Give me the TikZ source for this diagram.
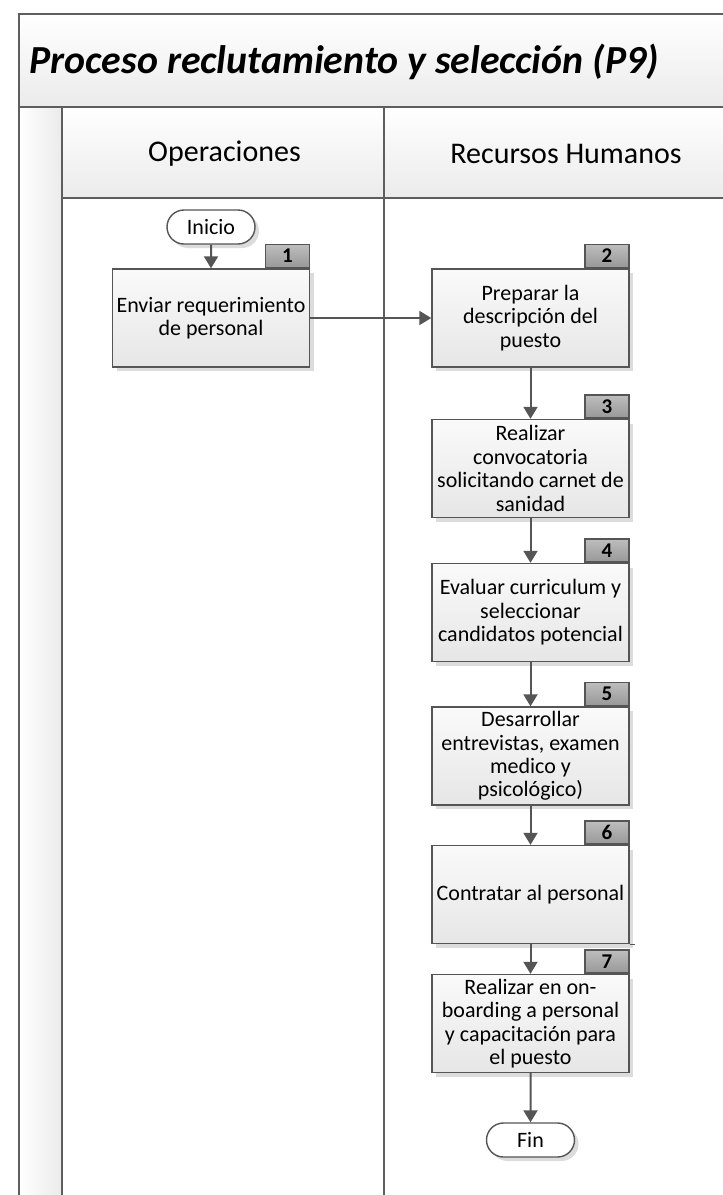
\documentclass[tikz,border=0pt]{standalone}
\usepackage{fontspec}
\setmainfont{Carlito}
\usetikzlibrary{arrows.meta,shapes.misc,shadows}
\definecolor{frameline}{HTML}{5E5E5E}
\definecolor{boxline}{HTML}{555555}
\definecolor{boxtop}{HTML}{FAFAFA}
\definecolor{boxbot}{HTML}{E6E6E6}
\definecolor{tabtop}{HTML}{BDBDBD}
\definecolor{tabbot}{HTML}{989898}
\definecolor{bandbot}{HTML}{EBEBEB}
\definecolor{shadowgray}{HTML}{D4D4D4}
\begin{document}
\begin{tikzpicture}[x=1pt,y=-1pt,
  frame/.style={draw=frameline, line width=2pt},
  boxshadow/.style={drop shadow={shadow xshift=4pt, shadow yshift=-4pt, fill=shadowgray, opacity=0.8}},
  proc/.style={draw=boxline, line width=1.4pt, minimum width=197pt, minimum height=98pt,
    inner sep=0pt, align=center, top color=boxtop, bottom color=boxbot,
    font=\fontsize{22}{23.4}\selectfont, boxshadow},
  tabbox/.style={draw=boxline, line width=1.4pt, minimum width=44pt, minimum height=23pt,
    inner sep=0pt, top color=tabtop, bottom color=tabbot, anchor=south east,
    font=\bfseries\fontsize{21}{21}\selectfont},
  term/.style={rounded rectangle, draw=boxline, line width=1.4pt, minimum width=88pt,
    minimum height=34pt, inner sep=0pt, fill=white, font=\fontsize{22}{22}\selectfont, boxshadow},
  flow/.style={draw=boxline, line width=2pt, -{Triangle[length=12pt,width=14pt]}},
  lanehead/.style={font=\fontsize{30}{30}\selectfont}
]
\useasboundingbox (0,0) rectangle (723,1195);
\fill[white] (0,0) rectangle (723,1195);

% pool title band, lane header band and side strip
\fill[top color=white, bottom color=bandbot] (19,14) rectangle (723,107);
\fill[top color=white, bottom color=bandbot] (62,107) rectangle (723,198);
\fill[left color=white, right color=bandbot] (19,107) rectangle (62,1195);

% pool and lane borders
\draw[frame] (19,1195) -- (19,14) -- (723,14);
\draw[frame] (19,107) -- (723,107);
\draw[frame] (62,107) -- (62,1195);
\draw[frame] (62,198) -- (723,198);
\draw[frame] (384,107) -- (384,1195);

% titles
\node[anchor=west, font=\bfseries\itshape\fontsize{39.8}{40}\selectfont] (title) at (26,62)
  {Proceso reclutamiento y selección (P9)};
\node[lanehead] (ops) at (224.5,154) {Operaciones};
\node[lanehead] (rrhh) at (566,154) {Recursos Humanos};

% process steps
\node[term] (inicio) at (211,227) {Inicio};
\node[proc] (b1) at (211,318) {Enviar requerimiento\\de personal};
\node[proc] (b2) at (530.5,318) {Preparar la\\descripción del\\puesto};
\node[proc] (b3) at (530.5,468.5) {Realizar\\convocatoria\\solicitando carnet de\\sanidad};
\node[proc] (b4) at (530.5,612.5) {Evaluar curriculum y\\seleccionar\\candidatos potencial};
\node[proc] (b5) at (530.5,756) {Desarrollar\\entrevistas, examen\\medico y\\psicológico)};
\node[proc] (b6) at (530.5,894.5) {Contratar al personal};
\node[proc] (b7) at (530.5,1023.5) {Realizar en on-\\boarding a personal\\y capacitación para\\el puesto};
\node[term] (fin) at (530.5,1140) {Fin};
\draw[boxline, line width=1.4pt] (b6.south east) -- ++(5,0);

% step number tabs
\node[tabbox] (t1) at (b1.north east) {1};
\node[tabbox] (t2) at (b2.north east) {2};
\node[tabbox] (t3) at (b3.north east) {3};
\node[tabbox] (t4) at (b4.north east) {4};
\node[tabbox] (t5) at (b5.north east) {5};
\node[tabbox] (t6) at (b6.north east) {6};
\node[tabbox] (t7) at (b7.north east) {7};

% sequence flow
\draw[flow] (inicio) -- (b1);
\draw[flow] (b1) -- (b2);
\draw[flow] (b2) -- (b3);
\draw[flow] (b3) -- (b4);
\draw[flow] (b4) -- (b5);
\draw[flow] (b5) -- (b6);
\draw[flow] (b6) -- (b7);
\draw[flow] (b7) -- (fin);
\end{tikzpicture}
\end{document}
